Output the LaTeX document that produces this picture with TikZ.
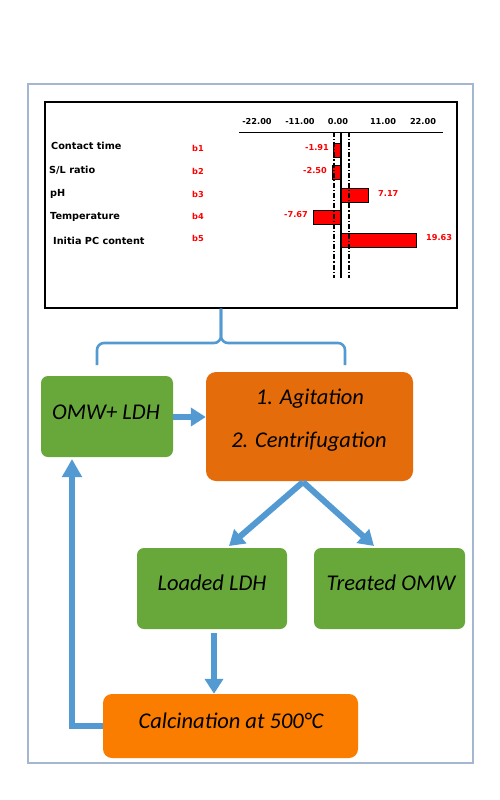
\documentclass[tikz,border=0pt]{standalone}
\usepackage{fontspec}
\setmainfont{Carlito}
\newfontfamily\chartfont{DejaVu Sans}
\usetikzlibrary{arrows.meta}
\definecolor{boxgreen}{RGB}{104,168,58}
\definecolor{boxorange}{RGB}{228,108,10}
\definecolor{calcorange}{RGB}{250,125,0}
\definecolor{arrblue}{RGB}{84,154,210}
\definecolor{framecol}{RGB}{165,183,208}
\definecolor{barred}{RGB}{255,0,0}
\begin{document}
\begin{tikzpicture}[x=1pt,y=-1pt,
  gbox/.style={fill=boxgreen, rounded corners=7pt, inner sep=0},
  obox/.style={fill=boxorange, rounded corners=10pt, inner sep=0},
  cbox/.style={fill=calcorange, rounded corners=9pt, inner sep=0},
  txt/.style={font=\itshape\fontsize{22.5}{26}\selectfont, inner sep=0},
  arr/.style={draw=arrblue, line width=6pt, -{Triangle[width=18pt,length=15pt]}},
  rowlab/.style={font=\chartfont\bfseries\fontsize{9.7}{11}\selectfont, anchor=west, inner sep=0},
  redlab/.style={font=\chartfont\bfseries\fontsize{8.2}{10}\selectfont, text=barred, inner sep=0},
  ticklab/.style={font=\chartfont\bfseries\fontsize{8.2}{10}\selectfont, inner sep=0},
  bar/.style={fill=barred, draw=black, line width=1pt},
  refdash/.style={line width=1.3pt, dash pattern=on 5pt off 2pt on 1.2pt off 2pt},
  brace/.style={draw=arrblue, line width=2.6pt, rounded corners=7pt}
]
\useasboundingbox[fill=white] (0,0) rectangle (500,800);
% outer frame
\draw[framecol, line width=1.2pt] (28,84) rectangle (473,763);
% chart box
\node[draw, line width=1.1pt, minimum width=412, minimum height=206, inner sep=0] (chart) at (251,205) {};
% axis
\draw[line width=0.9pt] (239,132) -- (443,132);
\node[ticklab] (t1) at (257,122) {-22.00};
\node[ticklab] (t2) at (300,122) {-11.00};
\node[ticklab] (t3) at (338,122) {0.00};
\node[ticklab] (t4) at (383,122) {11.00};
\node[ticklab] (t5) at (423,122) {22.00};
% bars
\draw[bar] (333,143) rectangle (341,157);
\draw[bar] (332,165) rectangle (341,179);
\draw[bar] (341,188) rectangle (368,202);
\draw[bar] (313,210) rectangle (341,224);
\draw[bar] (341,233) rectangle (416,247);
% vertical reference lines
\draw[line width=1.3pt] (341,132) -- (341,278);
\draw[refdash] (334,132) -- (334,278);
\draw[refdash] (349,132) -- (349,278);
% row labels
\node[rowlab] (r1) at (51,146) {Contact time};
\node[rowlab] (r2) at (49,170) {S/L ratio};
\node[rowlab] (r3) at (50,194) {pH};
\node[rowlab] (r4) at (50,217) {Temperature};
\node[rowlab] (r5) at (53,241) {Initia PC content};
\node[redlab, anchor=west] (b1) at (192,148) {b1};
\node[redlab, anchor=west] (b2) at (192,171) {b2};
\node[redlab, anchor=west] (b3) at (192,194) {b3};
\node[redlab, anchor=west] (b4) at (192,216) {b4};
\node[redlab, anchor=west] (b5) at (192,238) {b5};
\node[redlab, anchor=east] (v1) at (329,148) {-1.91};
\node[redlab, anchor=east] (v2) at (327,171) {-2.50};
\node[redlab, anchor=west] (v3) at (378,194) {7.17};
\node[redlab, anchor=east] (v4) at (308,215) {-7.67};
\node[redlab, anchor=west] (v5) at (426,238) {19.63};
% brace
\coordinate (bl) at (97,365);
\coordinate (br) at (345,365);
\draw[brace] (chart.south -| 221,0) -- (221,343) -- (97,343) -- (bl);
\draw[brace] (chart.south -| 221,0) -- (221,343) -- (345,343) -- (br);
% flow boxes
\node[gbox, minimum width=132, minimum height=81] (omw) at (107,416.5) {};
\node[txt] (omwt) at (106,412) {OMW+ LDH};
\node[obox, minimum width=207, minimum height=109] (agit) at (309.5,426.5) {};
\node[txt] (agt1) at (310,399) {1. Agitation};
\node[txt] (agt2) at (309,442) {2. Centrifugation};
\node[gbox, minimum width=150, minimum height=81] (loaded) at (212,588.5) {};
\node[txt] (loadedt) at (212,583) {Loaded LDH};
\node[gbox, minimum width=151, minimum height=81] (treated) at (389.5,588.5) {};
\node[txt] (treatedt) at (391,583) {Treated OMW};
\node[cbox, minimum width=255, minimum height=64] (calc) at (230.5,726) {};
\node[txt] (calct) at (231,721) {Calcination at 500°C};
% arrows
\draw[arr] (omw.east |- 0,417) -- (agit.west |- 0,417);
\coordinate (as) at (303,482);
\coordinate (lt) at (229,546);
\coordinate (rt) at (374,546);
\draw[arr] (as) -- (lt);
\draw[arr] (as) -- (rt);
\coordinate (ls) at (214,633);
\draw[arr] (ls) -- (ls |- calc.north);
\coordinate (fb) at (72,459);
\draw[arr, -{Triangle[width=19pt,length=18pt]}] (calc.west) -| (fb);
\end{tikzpicture}
\end{document}
